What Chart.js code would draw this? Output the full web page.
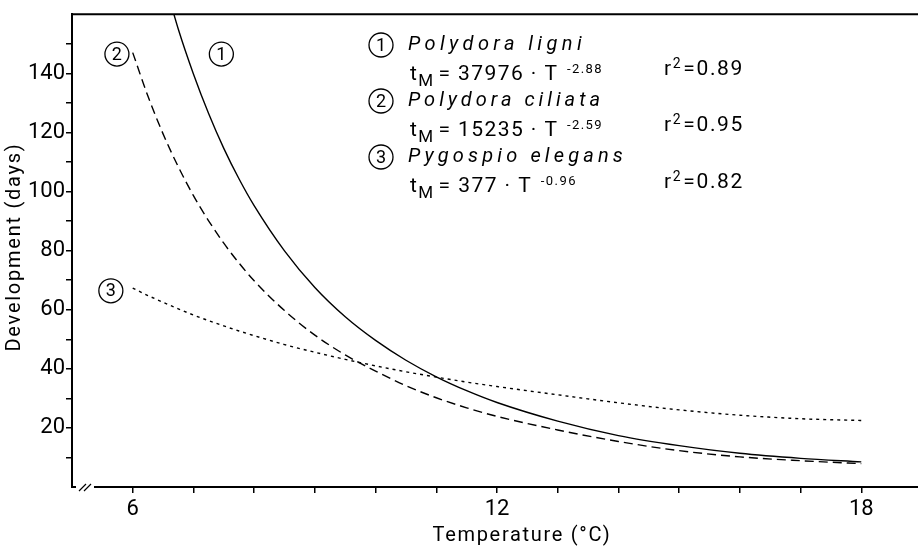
<!DOCTYPE html>
<html>
<head>
<meta charset="utf-8">
<script src="https://cdn.jsdelivr.net/npm/chart.js@4.4.1/dist/chart.umd.min.js"></script>
<style>
  html, body { margin: 0; padding: 0; background: #fff; overflow: hidden; }
  #wrap { width: 922px; height: 547px; }
</style>
</head>
<body>
<div id="wrap"><canvas id="chart-dev" width="922" height="547"></canvas></div>
<script>
// ─── data ───
const temps   = [6, 6.25, 6.5, 6.75, 7, 7.25, 7.5, 7.75, 8, 8.5, 9, 9.5, 10, 10.5, 11, 11.5, 12, 13, 14, 15, 16, 17, 18];
const ligni   = [null, null, 173, 155, 139.8, 126.4, 114.6, 104.3, 95.2, 79.9, 67.5, 57.6, 49.6, 42.9, 37.3, 32.6, 28.6, 22.3, 17.4, 14.0, 11.4, 9.7, 8.5];
const ciliata = [147.0, 132.3, 119.5, 108.4, 98.6, 90.1, 82.5, 75.8, 69.8, 59.7, 51.4, 44.7, 39.2, 34.3, 30.2, 26.8, 23.9, 19.3, 15.4, 12.3, 10.2, 8.9, 7.9];
const elegans = [67.3, 64.8, 62.5, 60.3, 58.2, 56.3, 54.5, 52.8, 51.2, 48.2, 45.6, 43.2, 41.0, 39.0, 37.2, 35.5, 34.0, 31.2, 28.5, 26.1, 24.3, 23.1, 22.5];

const xTickValues = [6, 7, 8, 9, 10, 11, 12, 13, 14, 15, 16, 17, 18];
const xTickLabels = [6, 12, 18];
const yTickValues = [10, 20, 30, 40, 50, 60, 70, 80, 90, 100, 110, 120, 130, 140, 150];
const yTickLabels = [20, 40, 60, 80, 100, 120, 140];

const speciesNames = ['Polydora ligni', 'Polydora ciliata', 'Pygospio elegans'];
const coefs        = ['37976', '15235', '377'];
const exponents    = ['-2.88', '-2.59', '-0.96'];
const rSquared     = ['0.89', '0.95', '0.82'];

const FONT = '"Liberation Sans Narrow", Roboto, sans-serif';
const TEXT_FONT = 'Roboto, "Liberation Sans", sans-serif';

function pts(values) {
    return temps.map((t, i) => ({ x: t, y: values[i] }));
}

// draws a row of text pieces; spreads extra letter spacing to reach a target width
function drawRuns(ctx, runs, x, y, target) {
    let natural = 0, chars = 0;
    runs.forEach(r => {
        ctx.font = r.font;
        ctx.letterSpacing = '0px';
        natural += ctx.measureText(r.text).width + (r.gap || 0);
        chars += r.text.length;
    });
    const extra = target ? Math.max(0, (target - natural) / chars) : 0;
    runs.forEach(r => {
        ctx.font = r.font;
        ctx.letterSpacing = extra + 'px';
        ctx.fillText(r.text, x, y + (r.dy || 0));
        x += ctx.measureText(r.text).width + (r.gap || 0);
    });
    ctx.letterSpacing = '0px';
}

// ─── extra drawing: frame top, axis break, titles, circled numbers, legend ───
const decorPlugin = {
    id: 'decor',
    afterDraw(chart) {
        const ctx = chart.ctx;
        const a = chart.chartArea;
        const xs = chart.scales.x, ys = chart.scales.y;
        ctx.save();
        ctx.strokeStyle = '#000';
        ctx.fillStyle = '#000';

        // top frame line
        ctx.lineWidth = 2;
        ctx.beginPath();
        ctx.moveTo(a.left, a.top);
        ctx.lineTo(a.right, a.top);
        ctx.stroke();

        // bottom axis with break marks
        ctx.beginPath();
        ctx.moveTo(a.left - 1, a.bottom);
        ctx.lineTo(a.left + 4, a.bottom);
        ctx.moveTo(a.left + 22, a.bottom);
        ctx.lineTo(a.right, a.bottom);
        ctx.stroke();
        ctx.lineWidth = 1.2;
        ctx.beginPath();
        ctx.moveTo(a.left + 7, a.bottom + 4);
        ctx.lineTo(a.left + 14, a.bottom - 3);
        ctx.moveTo(a.left + 12, a.bottom + 4);
        ctx.lineTo(a.left + 19, a.bottom - 3);
        ctx.stroke();

        // axis titles
        ctx.textBaseline = 'middle';
        ctx.textAlign = 'left';
        ctx.font = '20px ' + TEXT_FONT;
        ctx.letterSpacing = '0px';
        const xt = 'Temperature (\u00B0C)';
        let w = ctx.measureText(xt).width;
        ctx.letterSpacing = ((179 - w) / xt.length) + 'px';
        ctx.fillText(xt, 522 - 179 / 2, 536);
        ctx.letterSpacing = '0px';

        ctx.save();
        ctx.translate(15, 247);
        ctx.rotate(-Math.PI / 2);
        const yt = 'Development (days)';
        w = ctx.measureText(yt).width;
        ctx.letterSpacing = ((209 - w) / yt.length) + 'px';
        ctx.fillText(yt, -209 / 2, 0);
        ctx.restore();
        ctx.letterSpacing = '0px';

        function circled(px, py, label) {
            ctx.lineWidth = 1.3;
            ctx.beginPath();
            ctx.arc(px, py, 12, 0, Math.PI * 2);
            ctx.stroke();
            ctx.font = '18px ' + TEXT_FONT;
            ctx.textAlign = 'center';
            ctx.textBaseline = 'middle';
            ctx.fillText(label, px, py + 1);
        }

        // circled numbers at the curves
        circled(xs.getPixelForValue(7.46), ys.getPixelForValue(146.5), '1');
        circled(xs.getPixelForValue(5.74), ys.getPixelForValue(146.5), '2');
        circled(xs.getPixelForValue(5.64), ys.getPixelForValue(66.4), '3');

        // legend block
        const nameEnds = [586, 604, 627];
        const formEnds = [603, 603, 577];
        for (let i = 0; i < 3; i++) {
            const y0 = 45 + i * 56;
            circled(381, y0, String(i + 1));
            ctx.textAlign = 'left';
            ctx.textBaseline = 'middle';
            drawRuns(ctx, [{ text: speciesNames[i], font: 'italic 20px ' + TEXT_FONT }], 408, y0, nameEnds[i] - 408);

            const fy = y0 + 30;
            drawRuns(ctx, [
                { text: 't', font: '21px ' + TEXT_FONT },
                { text: 'M', font: '17px ' + TEXT_FONT, dy: 7, gap: 4 },
                { text: '= ' + coefs[i] + ' \u00B7 T ', font: '21px ' + TEXT_FONT, gap: 2 },
                { text: exponents[i], font: '13px ' + TEXT_FONT, dy: -5 }
            ], 410, fy, formEnds[i] - 410);

            const ry = y0 + (i === 2 ? 26 : 25);
            drawRuns(ctx, [
                { text: 'r', font: '21px ' + TEXT_FONT },
                { text: '2', font: '14px ' + TEXT_FONT, dy: -6, gap: 1 },
                { text: '=' + rSquared[i], font: '21px ' + TEXT_FONT }
            ], 664, ry, 80);
        }
        ctx.restore();
    }
};

const common = {
    borderColor: '#000',
    borderWidth: 1.4,
    pointRadius: 0,
    fill: false,
    cubicInterpolationMode: 'monotone'
};

new Chart(document.getElementById('chart-dev'), {
    type: 'line',
    data: {
        datasets: [
            Object.assign({ label: 'Polydora ligni', data: pts(ligni) }, common),
            Object.assign({ label: 'Polydora ciliata', data: pts(ciliata), borderDash: [9, 5] }, common),
            Object.assign({ label: 'Pygospio elegans', data: pts(elegans), borderDash: [3, 4] }, common)
        ]
    },
    options: {
        responsive: false,
        animation: false,
        layout: { padding: { top: 5, left: 0, right: 0, bottom: 0 } },
        plugins: {
            legend: { display: false },
            tooltip: { enabled: false }
        },
        scales: {
            x: {
                type: 'linear',
                min: 5,
                max: 19,
                afterBuildTicks: s => { s.ticks = xTickValues.map(v => ({ value: v })); },
                afterFit: s => { s.height = 60; },
                border: { display: false },
                grid: { drawOnChartArea: false, drawTicks: true, tickLength: 6, color: '#000', lineWidth: 1.5 },
                ticks: {
                    color: '#000',
                    font: { family: FONT, size: 22 },
                    padding: 3,
                    maxRotation: 0,
                    autoSkip: false,
                    callback: v => xTickLabels.includes(v) ? String(v) : ''
                }
            },
            y: {
                min: 0,
                max: 160,
                afterBuildTicks: s => { s.ticks = yTickValues.map(v => ({ value: v })); },
                afterFit: s => { s.width = 72; },
                border: { display: true, color: '#000', width: 2 },
                grid: { drawOnChartArea: false, drawTicks: true, tickLength: 6, color: '#000', lineWidth: 1.5 },
                ticks: {
                    color: '#000',
                    font: { family: FONT, size: 22 },
                    padding: 1,
                    autoSkip: false,
                    callback: v => yTickLabels.includes(v) ? String(v) : ''
                }
            }
        }
    },
    plugins: [decorPlugin]
});
</script>
</body>
</html>
